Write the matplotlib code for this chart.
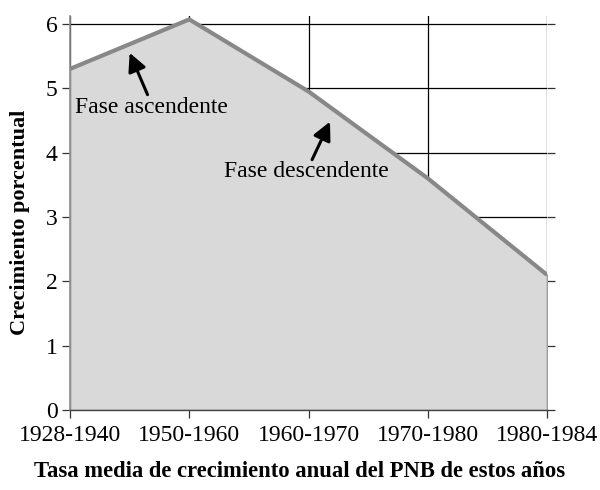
import matplotlib.pyplot as plt

# Datos
periodos = ["1928-1940", "1950-1960", "1960-1970", "1970-1980", "1980-1984"]
crecimiento = [5.3, 6.07, 4.95, 3.6, 2.1]

plt.rcParams["font.family"] = ["Liberation Serif", "DejaVu Serif"]

fig = plt.figure(figsize=(6, 4.9), dpi=100)
ax = fig.add_axes([0.1167, 0.1633, 0.795, 0.8037])

x = list(range(len(periodos)))

# Área y línea
ax.fill_between(x, crecimiento, 0, facecolor="#d9d9d9", edgecolor="#9a9a9a",
                linewidth=1.2, zorder=2)
ax.plot(x, crecimiento, color="#888888", linewidth=3, solid_capstyle="butt",
        zorder=3)

# Rejilla
ax.set_axisbelow(True)
ax.grid(True, color="black", linewidth=0.9)

ax.set_xlim(0, 4)
ax.set_ylim(0, 6.12)
ax.set_xticks(x)
ax.set_xticklabels(periodos)
ax.set_yticks(range(0, 7))

ax.tick_params(axis="both", labelsize=17, direction="out", length=6,
               width=0.9, color="#333333")
ax.tick_params(axis="y", right=True, pad=3)
ax.tick_params(axis="x", pad=5)

for s in ["top", "right"]:
    ax.spines[s].set_visible(False)
ax.spines["left"].set_color("#8c8c8c")
ax.spines["left"].set_linewidth(1.2)
ax.spines["bottom"].set_color("#444444")
ax.spines["bottom"].set_linewidth(1.0)

ax.set_xlabel("Tasa media de crecimiento anual del PNB de estos años",
              fontsize=16.3, fontweight="bold", labelpad=9)
ax.xaxis.set_label_coords(0.482, -0.13)
ax.xaxis.label.set_va("top")
ax.set_ylabel("Crecimiento porcentual", fontsize=16, fontweight="bold")
ax.yaxis.set_label_coords(-0.083, 0.477)

# Anotaciones
flecha = dict(arrowstyle="-|>,head_length=1.1,head_width=0.55", color="black",
              linewidth=2.2, shrinkA=0, shrinkB=0)
ax.annotate("", xy=(0.50, 5.55), xytext=(0.65, 4.90), arrowprops=flecha,
            zorder=4)
ax.text(0.04, 4.70, "Fase ascendente", fontsize=17, ha="left", va="center",
        zorder=4)
ax.annotate("", xy=(2.18, 4.48), xytext=(2.03, 3.89), arrowprops=flecha,
            zorder=4)
ax.text(1.98, 3.70, "Fase descendente", fontsize=17, ha="center",
        va="center", zorder=4)

plt.savefig("out.png", dpi=100)
plt.close()
